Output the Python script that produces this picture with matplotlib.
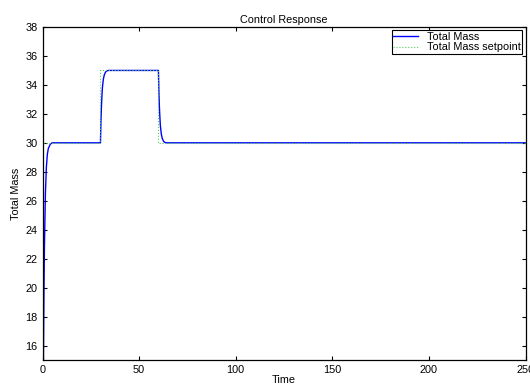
import matplotlib
matplotlib.use('Agg')
import matplotlib.pyplot as plt

plt.rcParams['font.family'] = ['Liberation Sans', 'DejaVu Sans']

# response samples (time, total mass)
t_resp = [0, 0.25, 0.5, 0.75, 1.0, 1.5, 2.0, 2.5, 3.0, 4.0, 5.0,
          30.0, 30.25, 30.5, 30.75, 31.0, 31.5, 32.0, 32.5, 33.0, 34.0, 35.0,
          60.0, 60.25, 60.5, 60.75, 61.0, 61.5, 62.0, 62.5, 63.0, 64.0, 65.0, 250]
m_resp = [0, 9.0, 15.3, 19.7, 22.8, 26.5, 28.3, 29.2, 29.6, 29.9, 30.0,
          30.0, 31.5, 32.5, 33.2, 33.8, 34.4, 34.7, 34.85, 34.95, 35.0, 35.0,
          35.0, 33.5, 32.5, 31.8, 31.2, 30.6, 30.3, 30.15, 30.05, 30.0, 30.0, 30.0]

# setpoint steps
t_sp = [0, 30, 30, 60, 60, 250]
m_sp = [30, 30, 35, 35, 30, 30]

fs = 7.8

fig = plt.figure(figsize=(5.3, 3.85), dpi=100)
ax = fig.add_axes([42.5 / 530, 25 / 385, 483 / 530, 333 / 385])

ax.plot(t_resp, m_resp, color='#0000ff', lw=1.0, label='Total Mass')
ax.plot(t_sp, m_sp, color='#55cc55', lw=0.8, ls=':', label='Total Mass setpoint')

ax.set_xlim(0, 250)
ax.set_ylim(15, 38)
ax.set_xticks([0, 50, 100, 150, 200, 250])
ax.set_yticks(range(16, 39, 2))
ax.tick_params(direction='in', top=True, right=True, length=3, labelsize=fs, width=0.8)
for s in ax.spines.values():
    s.set_linewidth(0.9)

ax.set_title('Control Response', fontsize=fs, pad=3)
ax.set_xlabel('Time', fontsize=fs, labelpad=0)
ax.set_ylabel('Total Mass', fontsize=fs, labelpad=3)

leg = ax.legend(loc='upper right', fontsize=fs, fancybox=False, framealpha=1,
                edgecolor='black', borderaxespad=0.3, handlelength=2.3,
                borderpad=0.15, labelspacing=0.05, handletextpad=0.8)
leg.get_frame().set_linewidth(0.8)

fig.savefig('out.png', dpi=100)
